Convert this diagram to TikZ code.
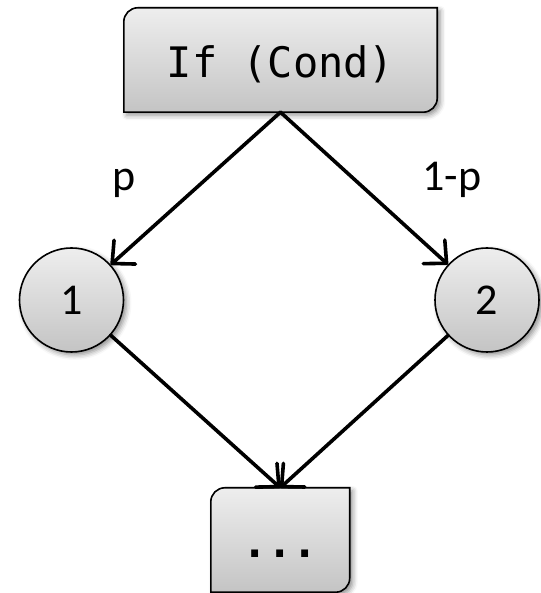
\documentclass[tikz,border=0pt]{standalone}
\usepackage{fontspec}
\newfontfamily\codefont{DejaVu Sans Mono}
\newfontfamily\labelfont{Carlito}
\usetikzlibrary{arrows.meta,shadows.blur}
\pgfdeclarelayer{background}
\pgfsetlayers{background,main}

\definecolor{shadetop}{RGB}{238,238,238}
\definecolor{shadebot}{RGB}{196,196,196}

% Box outline with rounded top-left and bottom-right corners
\newcommand\cornerbox[2]{(#1.south west) -- ([yshift=-#2]#1.north west)
  arc[start angle=180,end angle=90,radius=#2] -- (#1.north east)
  -- ([yshift=#2]#1.south east) arc[start angle=0,end angle=-90,radius=#2] -- cycle}

\begin{document}
\begin{tikzpicture}[x=1pt,y=1pt,
  softshadow/.style={blur shadow={shadow xshift=3pt,shadow yshift=-3pt,
      shadow blur radius=5pt,shadow opacity=45}},
  shaded/.style={top color=shadetop,bottom color=shadebot},
  codebox/.style={minimum width=#1,minimum height=104pt,inner sep=0pt,
      text height=35pt,text depth=0pt,font=\codefont\fontsize{42}{50}\selectfont},
  boxshape/.style={draw=black,line width=1.6pt,shaded,softshadow},
  statenode/.style={circle,minimum size=104pt,inner sep=0pt,draw=black,
      line width=1.6pt,shaded,softshadow,font=\labelfont\fontsize{44}{52}\selectfont},
  edge/.style={line width=3.6pt,line cap=round,
      -{Straight Barb[length=17pt,width=32pt,round]}},
  prob/.style={anchor=base,inner sep=0pt,font=\labelfont\fontsize{44}{52}\selectfont}
]
\useasboundingbox (0,0) rectangle (540,593);

% nodes
\node[codebox=313pt] (cond) at (280.5,533) {If (Cond)};
\node[statenode] (one) at (71.5,293) {1};
\node[statenode] (two) at (487,293) {2};
\node[codebox=138.5pt,font=\codefont\bfseries\fontsize{42}{50}\selectfont] (join) at (280.25,53) {...};

% box outlines behind the text
\begin{pgfonlayer}{background}
  \path[boxshape] \cornerbox{cond}{14pt};
  \path[boxshape] \cornerbox{join}{14pt};
\end{pgfonlayer}

% branch probabilities
\node[prob] (pl) at (124,402) {p};
\node[prob] (pr) at (452,402) {1-p};

% connectors
\draw[edge] (cond.south) -- (one);
\draw[edge] (cond.south) -- (two);
\draw[edge] (one) -- (join.north);
\draw[edge] (two) -- (join.north);
\end{tikzpicture}
\end{document}
